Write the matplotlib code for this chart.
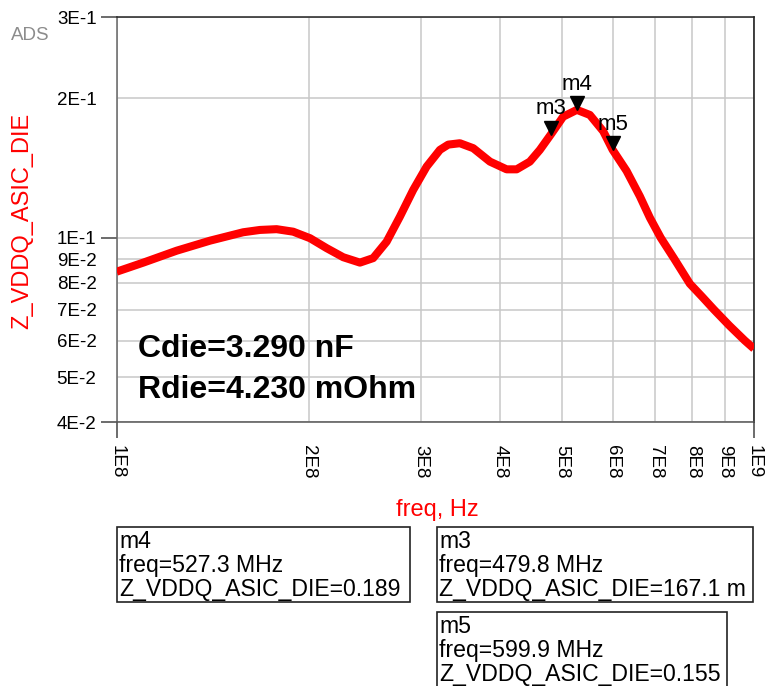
import numpy as np
import matplotlib
matplotlib.use('Agg')
import matplotlib.pyplot as plt
from matplotlib.patches import Rectangle
from matplotlib.transforms import offset_copy

plt.rcParams['font.family'] = ['Liberation Sans', 'DejaVu Sans']

# die impedance trace: freq in MHz, |Z| in ohm
freq_mhz = [100.0, 110.1, 124.2, 140.1, 157.9, 167.8, 178.2, 189.2, 201.1, 213.5,
            226.7, 240.8, 252.6, 265.2, 278.2, 291.9, 306.4, 321.5, 331.3, 345.5,
            362.6, 385.2, 409.1, 424.2, 444.9, 461.3, 479.8, 501.8, 527.3, 552.6,
            579.9, 599.9, 631.0, 662.0, 686.5, 714.0, 750.0, 793.0, 829.0, 865.0,
            915.0, 967.0, 1000.0]
z_die = [0.0845, 0.0884, 0.0938, 0.0986, 0.1028, 0.1040, 0.1044, 0.1031, 0.0998, 0.0950,
         0.0908, 0.0884, 0.0904, 0.0981, 0.1111, 0.1269, 0.1425, 0.1549, 0.1590, 0.1601,
         0.1562, 0.1461, 0.1406, 0.1406, 0.1461, 0.1549, 0.1671, 0.1827, 0.1890, 0.1843,
         0.1700, 0.1550, 0.1395, 0.1230, 0.1105, 0.1000, 0.0900, 0.0796, 0.0746, 0.0700,
         0.0646, 0.0600, 0.0576]

# markers
mk_names = ['m3', 'm4', 'm5']
mk_freq_mhz = [479.8, 527.3, 599.9]
mk_z = [0.1671, 0.189, 0.155]

c_die_nf = 3.290
r_die_mohm = 4.230

y_major = [0.04, 0.1, 0.3]
y_minor = [0.05, 0.06, 0.07, 0.08, 0.09, 0.2]
x_major = [1e8, 1e9]
x_minor = [2e8, 3e8, 4e8, 5e8, 6e8, 7e8, 8e8, 9e8]


def sci(v):
    e = int(np.floor(np.log10(v) + 1e-9))
    return '%dE%d' % (round(v / 10**e), e)


def zfmt(v):
    # ADS switches to milli prefix for some readouts
    if 0.16 < v < 0.18:
        return '%.1f m' % (v * 1000)
    return '%.3f' % v


W, H = 766, 686
fig = plt.figure(figsize=(W / 100, H / 100), dpi=100)
ax = fig.add_axes([116.7 / W, 1 - 422 / H, (754 - 116.7) / W, (422 - 17) / H])
ax.set_xscale('log')
ax.set_yscale('log')

f_hz = np.array(freq_mhz) * 1e6
ax.plot(f_hz, z_die, color='#ff0000', lw=5.8, solid_joinstyle='round',
        solid_capstyle='butt', zorder=3)

# marker triangles sit with their tip on the trace
mk_hz = np.array(mk_freq_mhz) * 1e6
tri = offset_copy(ax.transData, fig=fig, y=5, units='points')
ax.plot(mk_hz, mk_z, 'v', ms=10, color='black', transform=tri, zorder=4, clip_on=False)
for name, f, z in zip(mk_names, mk_hz, mk_z):
    ax.annotate(name, (f, z), xytext=(0, 14.5), textcoords='offset points',
                ha='center', va='baseline', fontsize=16, color='black', zorder=5)

ax.set_xlim(1e8, 1e9)
ax.set_ylim(0.04, 0.3)

ax.set_yticks(y_major)
ax.set_yticklabels([sci(v) for v in y_major])
ax.set_yticks(y_minor, minor=True)
ax.set_yticklabels([sci(v) for v in y_minor], minor=True)
ax.set_xticks(x_major)
ax.set_xticklabels([sci(v) for v in x_major])
ax.set_xticks(x_minor, minor=True)
ax.set_xticklabels([sci(v) for v in x_minor], minor=True)

ax.tick_params(axis='y', which='major', length=11.5, width=1.1, color='#444', pad=3, labelsize=13.5)
ax.tick_params(axis='y', which='minor', length=0, pad=14.5, labelsize=13.5)
ax.tick_params(axis='x', which='major', length=11.5, width=1.1, color='#444', pad=5,
               labelsize=13.5, labelrotation=-90)
ax.tick_params(axis='x', which='minor', length=0, pad=16.5, labelsize=13.5, labelrotation=-90)

ax.grid(True, which='both', color='#c8c8c8', lw=1.1)
ax.spines['left'].set_color('#666')
ax.spines['bottom'].set_color('#555')
ax.spines['top'].set_color('#222')
ax.spines['right'].set_color('#111')
for s in ax.spines.values():
    s.set_linewidth(1.1)

fig.text(22 / W, 1 - 221 / H, 'Z_VDDQ_ASIC_DIE', rotation=90, ha='center', va='center',
         fontsize=17, color='#ff0000')
fig.text(437 / W, 1 - 510 / H, 'freq, Hz', ha='center', va='center', fontsize=17, color='#ff0000')
fig.text(11 / W, 1 - 40 / H, 'ADS', fontsize=13.5, color='#8c8c8c', va='baseline')

fig.text(138 / W, 1 - 357 / H, 'Cdie=%.3f nF' % c_die_nf, fontsize=23, fontweight='bold', va='baseline')
fig.text(138 / W, 1 - 398 / H, 'Rdie=%.3f mOhm' % r_die_mohm, fontsize=23, fontweight='bold', va='baseline')

# marker readout boxes (left, top, right, bottom in px)
boxes = {'m4': (117, 527, 410, 602), 'm3': (437, 527, 753, 602), 'm5': (437, 612, 727, 700)}
for name, f, z in zip(mk_names, mk_freq_mhz, mk_z):
    x0, y0, x1, y1 = boxes[name]
    fig.patches.append(Rectangle((x0 / W, 1 - y1 / H), (x1 - x0) / W, (y1 - y0) / H,
                                 transform=fig.transFigure, fill=False, ec='#222', lw=1.2))
    lines = [name, 'freq=%.1f MHz' % f, 'Z_VDDQ_ASIC_DIE=%s' % zfmt(z)]
    for i, t in enumerate(lines):
        fig.text((x0 + 2) / W, 1 - (y0 + 21 + 24 * i) / H, t, fontsize=16.6, va='baseline')

fig.savefig('out.png', dpi=100)
